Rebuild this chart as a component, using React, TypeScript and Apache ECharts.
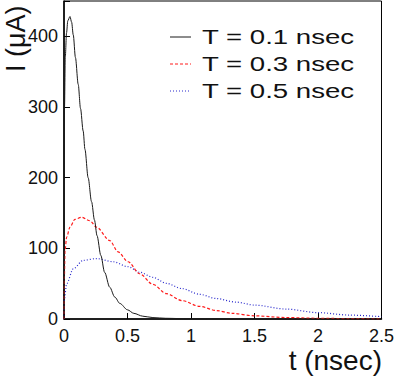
import React, { useEffect, useRef } from "react";
import * as echarts from "echarts";

const xTicks = [0, 0.5, 1, 1.5, 2, 2.5];
const yTicks = [0, 100, 200, 300, 400];

const legendLabels = ["T = 0.1 nsec", "T = 0.3 nsec", "T = 0.5 nsec"];

const blackT = [0, 0.004, 0.01, 0.02, 0.03, 0.047, 0.06, 0.073, 0.09, 0.112, 0.13, 0.151, 0.165, 0.19, 0.217, 0.24, 0.26, 0.29, 0.32, 0.36, 0.4, 0.44, 0.5, 0.55, 0.62, 0.7, 0.8, 1.0, 1.5, 2.5];
const blackI = [0, 300, 370, 405, 422, 428, 420, 402, 370, 332, 298, 266, 240, 200, 166, 140, 118, 90, 66, 45, 31, 22, 13, 8, 4, 2, 1, 0.2, 0, 0];

const redT = [0, 0.003, 0.008, 0.021, 0.047, 0.086, 0.139, 0.204, 0.256, 0.36, 0.426, 0.504, 0.596, 0.7, 0.805, 0.93, 1.066, 1.2, 1.32, 1.5, 1.75, 2.0, 2.25, 2.5];
const redI = [0, 60, 97, 116, 130, 141, 144, 139, 130, 111, 95, 81, 64, 49, 36, 26, 18, 12, 8, 4.5, 2, 1, 0.5, 0.2];

const blueT = [0, 0.002, 0.021, 0.073, 0.151, 0.256, 0.387, 0.504, 0.6, 0.7, 0.805, 0.93, 1.066, 1.2, 1.35, 1.5, 1.75, 2.0, 2.25, 2.5];
const blueI = [0, 27, 50, 71, 83, 85.5, 81, 74, 66, 59, 50.5, 43, 35, 29, 24, 19.7, 14, 9, 5.5, 3.3];

const FONT = "Liberation Sans, Arial, Helvetica, sans-serif";

function pairs(t: number[], v: number[]) {
  return t.map((x, i) => [x, v[i]]);
}

export default function App() {
  const ref = useRef<HTMLDivElement>(null);
  useEffect(() => {
    if (!ref.current) return;
    const chart = echarts.init(ref.current, null, { renderer: "svg" });
    const colors = ["#1a1a1a", "#ff1a1a", "#2a2acc"];
    const types: any[] = ["solid", [3, 2], [1, 2]];
    const rowY = [37, 64, 91];
    const legendGraphics: any[] = [];
    legendLabels.forEach((lab, i) => {
      legendGraphics.push({
        type: "line",
        shape: { x1: 170, y1: rowY[i], x2: 191, y2: rowY[i] },
        style: { stroke: colors[i], lineWidth: 1, lineDash: types[i] === "solid" ? null : types[i] },
      });
      legendGraphics.push({
        type: "text",
        x: 202,
        y: rowY[i],
        scaleX: 1.38,
        style: {
          text: lab,
          fontSize: 20,
          fontFamily: FONT,
          fill: "#111",
          textAlign: "left",
          textVerticalAlign: "middle",
        },
      });
    });
    chart.setOption({
      animation: false,
      backgroundColor: "#fff",
      grid: {
        left: 64,
        top: 1,
        right: 14,
        bottom: 60,
        show: true,
        borderColor: "#000",
        borderWidth: 1,
        backgroundColor: "transparent",
      },
      xAxis: {
        type: "value",
        min: 0,
        max: 2.5,
        interval: 0.5,
        splitLine: { show: false },
        axisLine: { show: true, onZero: false, lineStyle: { color: "#000", width: 1.5 } },
        axisTick: { show: true, inside: true, length: 6, lineStyle: { color: "#000", width: 1 } },
        axisLabel: {
          margin: 8,
          fontSize: 18,
          fontFamily: FONT,
          color: "#111",
          formatter: (v: number) => (xTicks.includes(v) ? String(v) : ""),
        },
      },
      yAxis: {
        type: "value",
        min: 0,
        max: 450,
        interval: 100,
        splitLine: { show: false },
        axisLine: { show: true, onZero: false, lineStyle: { color: "#000", width: 1.5 } },
        axisTick: { show: true, inside: true, length: 6, lineStyle: { color: "#000", width: 1 } },
        axisLabel: {
          margin: 6,
          fontSize: 18,
          fontFamily: FONT,
          color: "#111",
          formatter: (v: number) => (yTicks.includes(v) ? String(v) : ""),
        },
      },
      series: [
        { name: legendLabels[0], data: pairs(blackT, blackI) },
        { name: legendLabels[1], data: pairs(redT, redI) },
        { name: legendLabels[2], data: pairs(blueT, blueI) },
      ].map((s, i) => ({
        type: "line",
        name: s.name,
        data: s.data,
        showSymbol: false,
        smooth: 0.3,
        smoothMonotone: "x",
        lineStyle: { color: colors[i], width: i === 0 ? 1 : 1.2, type: types[i] },
        itemStyle: { color: colors[i] },
        z: 3 - i,
      })),
      graphic: [
        ...legendGraphics,
        {
          type: "text",
          x: 15.8,
          y: 72,
          rotation: Math.PI / 2,
          style: {
            text: "I (μA)",
            fontSize: 27,
            fontFamily: FONT,
            fill: "#111",
            textAlign: "left",
            textVerticalAlign: "middle",
          },
        },
        {
          type: "text",
          x: 382,
          y: 360,
          style: {
            text: "t (nsec)",
            fontSize: 28,
            fontFamily: FONT,
            fill: "#111",
            textAlign: "right",
            textVerticalAlign: "middle",
          },
        },
      ],
    });
    return () => chart.dispose();
  }, []);
  return <div ref={ref} style={{ width: 397, height: 379, position: "absolute", left: 0, top: 0 }} />;
}
